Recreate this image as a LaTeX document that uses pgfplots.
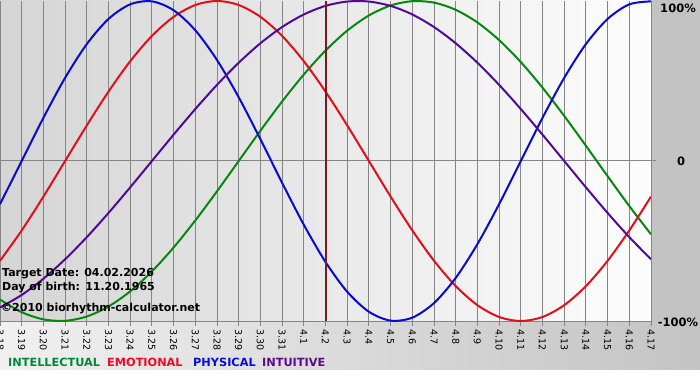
\documentclass[border=0pt]{standalone}
\usepackage{pgfplots}
\pgfplotsset{compat=1.18}
\usepackage{pgfplotstable}
\usepackage{fontspec}
\setmainfont{DejaVu Sans}
\definecolor{cInt}{HTML}{08870F}
\definecolor{cEmo}{HTML}{E0101A}
\definecolor{cPhy}{HTML}{0A0ACC}
\definecolor{cItu}{HTML}{520A96}
\definecolor{lInt}{HTML}{00883A}
\definecolor{lEmo}{HTML}{EE0A26}
\definecolor{lPhy}{HTML}{0A0ADA}
\definecolor{lItu}{HTML}{5A0A8C}
\definecolor{gridc}{HTML}{858585}
\definecolor{marker}{HTML}{7A1A20}
\definecolor{bandL}{HTML}{F0F0F0}
\definecolor{bandR}{HTML}{C4C4C4}
\definecolor{rmargin}{HTML}{C3C3C3}
\definecolor{plotL}{HTML}{D5D5D5}
\definecolor{plotR}{HTML}{FDFDFD}
\pgfplotstableread{
i int emo phy itu
0 -0.8660 -0.6235 -0.2698 -0.9158
1 -0.9450 -0.4339 0 -0.8372
2 -0.9898 -0.2225 0.2698 -0.7357
3 -0.9989 0 0.5196 -0.6142
4 -0.9718 0.2225 0.7308 -0.4759
5 -0.9096 0.4339 0.8879 -0.3247
6 -0.8146 0.6235 0.9791 -0.1646
7 -0.6901 0.7818 0.9977 0
8 -0.5406 0.9010 0.9423 0.1646
9 -0.3717 0.9749 0.8170 0.3247
10 -0.1893 1 0.6311 0.4759
11 0 0.9749 0.3984 0.6142
12 0.1893 0.9010 0.1362 0.7357
13 0.3717 0.7818 -0.1362 0.8372
14 0.5406 0.6235 -0.3984 0.9158
15 0.6901 0.4339 -0.6311 0.9694
16 0.8146 0.2225 -0.8170 0.9966
17 0.9096 0 -0.9423 0.9966
18 0.9718 -0.2225 -0.9977 0.9694
19 0.9989 -0.4339 -0.9791 0.9158
20 0.9898 -0.6235 -0.8879 0.8372
21 0.9450 -0.7818 -0.7308 0.7357
22 0.8660 -0.9010 -0.5196 0.6142
23 0.7557 -0.9749 -0.2698 0.4759
24 0.6182 -1 0 0.3247
25 0.4582 -0.9749 0.2698 0.1646
26 0.2817 -0.9010 0.5196 0
27 0.0951 -0.7818 0.7308 -0.1646
28 -0.0951 -0.6235 0.8879 -0.3247
29 -0.2817 -0.4339 0.9791 -0.4759
30 -0.4582 -0.2225 0.9977 -0.6142
}\bio
\begin{document}
\begin{tikzpicture}
\path[use as bounding box] (0pt,0pt) rectangle (700pt,380pt);
\clip (0pt,0pt) rectangle (700pt,380pt);
\fill[white] (0pt,0pt) rectangle (700pt,380pt);
\shade[left color=bandL, right color=bandR] (0pt,11pt) rectangle (700pt,59pt);
\fill[rmargin] (651pt,59pt) rectangle (700pt,380pt);
\begin{axis}[
  at={(0pt,59pt)}, anchor=south west,
  scale only axis, width=651pt, height=320pt,
  xmin=0, xmax=30, ymin=-1, ymax=1,
  axis background/.style={left color=plotL, right color=plotR},
  separate axis lines,
  axis x line*=bottom, axis y line*=right,
  axis line style={gridc, line width=1pt},
  xtick={0,...,30},
  xticklabels={3.18,3.19,3.20,3.21,3.22,3.23,3.24,3.25,3.26,3.27,3.28,3.29,3.30,3.31,4.1,4.2,4.3,4.4,4.5,4.6,4.7,4.8,4.9,4.10,4.11,4.12,4.13,4.14,4.15,4.16,4.17},
  xticklabel shift=3pt,
  xticklabel style={rotate=-90, anchor=west, inner sep=0pt, font=\fontsize{9.5}{9.5}\selectfont, text=black},
  ytick={0}, yticklabels={},
  tick align=outside, major tick length=5pt,
  tick style={gridc, line width=1pt},
  xmajorgrids, ymajorgrids,
  grid style={gridc, line width=1pt},
  clip=true,
]
\addplot[cInt, line width=2pt, smooth] table[x=i, y=int] {\bio};
\addplot[cEmo, line width=2pt, smooth] table[x=i, y=emo] {\bio};
\addplot[cPhy, line width=2pt, smooth] table[x=i, y=phy] {\bio};
\addplot[cItu, line width=2pt, smooth] table[x=i, y=itu] {\bio};
\addplot[marker, line width=2pt] coordinates {(15,-1) (15,1)};
\end{axis}
\node[font=\bfseries\fontsize{11.5}{12}\selectfont, anchor=center] at (678pt,372pt) {100\%};
\node[font=\bfseries\fontsize{11.5}{12}\selectfont, anchor=center] at (681pt,219pt) {0};
\node[font=\bfseries\fontsize{11.5}{12}\selectfont, anchor=center] at (678pt,58pt) {-100\%};
\node[font=\bfseries\fontsize{11}{12}\selectfont, anchor=base west, inner sep=0pt] at (2pt,104pt) {Target Date: 04.02.2026};
\node[font=\bfseries\fontsize{11}{12}\selectfont, anchor=base west, inner sep=0pt] at (2pt,90pt) {Day of birth: 11.20.1965};
\node[font=\bfseries\fontsize{11}{12}\selectfont, anchor=base west, inner sep=0pt] at (1pt,69pt) {©2010 biorhythm-calculator.net};
\node[font=\bfseries\fontsize{11.3}{12}\selectfont, anchor=base west, inner sep=0pt, text=lInt] at (8pt,14pt) {INTELLECTUAL};
\node[font=\bfseries\fontsize{11.3}{12}\selectfont, anchor=base west, inner sep=0pt, text=lEmo] at (107pt,14pt) {EMOTIONAL};
\node[font=\bfseries\fontsize{11.3}{12}\selectfont, anchor=base west, inner sep=0pt, text=lPhy] at (193pt,14pt) {PHYSICAL};
\node[font=\bfseries\fontsize{11.3}{12}\selectfont, anchor=base west, inner sep=0pt, text=lItu] at (262pt,14pt) {INTUITIVE};
\end{tikzpicture}
\end{document}
